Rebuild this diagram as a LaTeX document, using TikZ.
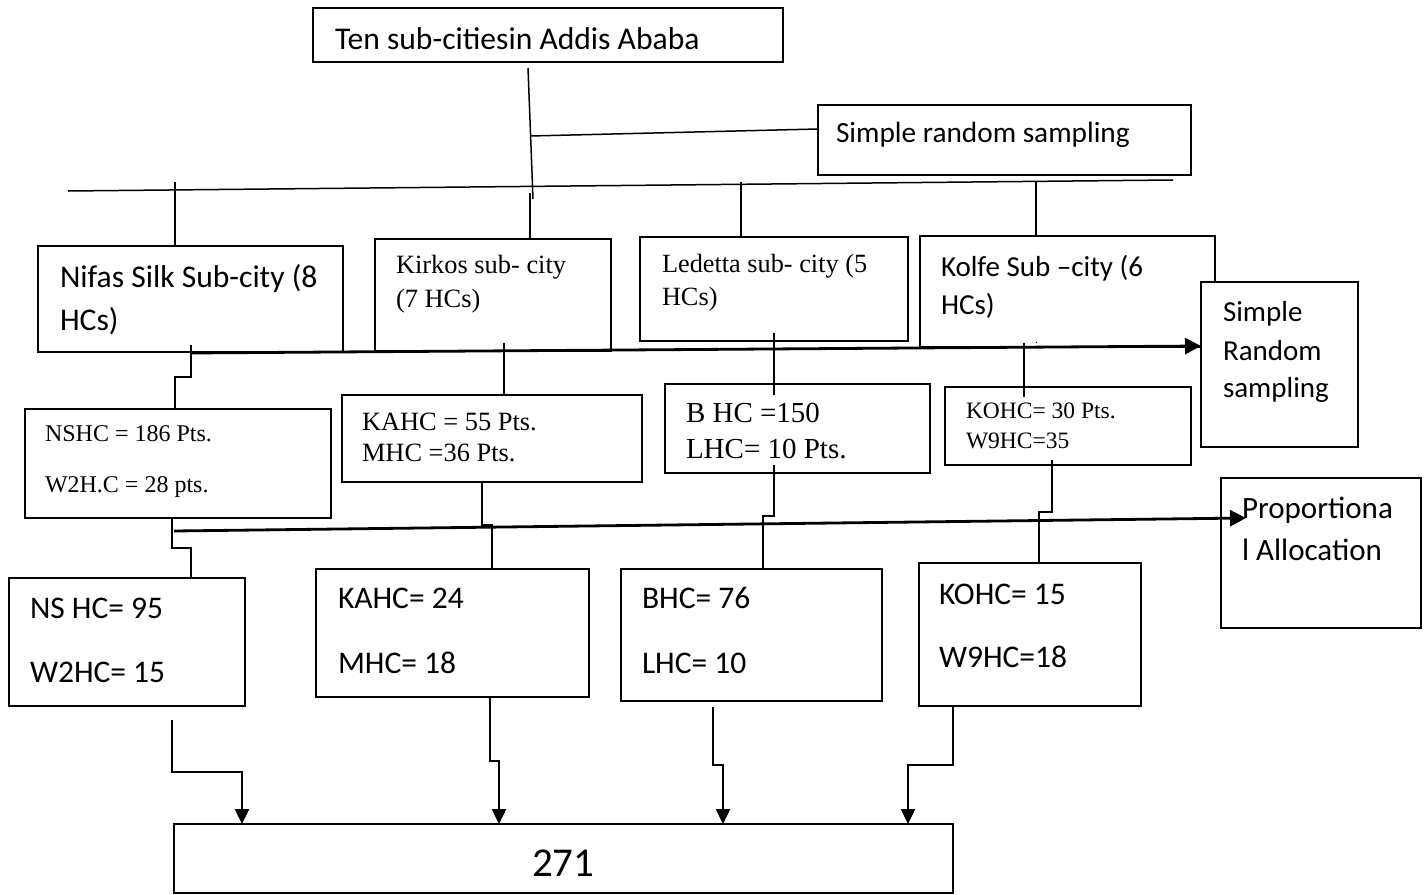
\documentclass[tikz,border=0pt]{standalone}
\usepackage{fontspec}
\setmainfont{Carlito}
\newfontfamily\tnr{Liberation Serif}
\usetikzlibrary{arrows.meta}
\tikzset{
  box/.style={draw, line width=2pt, inner sep=0pt, outer sep=0pt, anchor=north west, fill=white},
  txt/.style={inner sep=0pt, outer sep=0pt, anchor=base west},
  conn/.style={line width=1.5pt},
  bigarrow/.style={line width=2.8pt, -{Triangle[length=16pt,width=16pt]}},
  downarrow/.style={line width=2.4pt, -{Triangle[length=15pt,width=14pt]}},
}
\newcommand\mybox[5]{\node[box, minimum width={#4-#2}, minimum height={#5-#3}] (#1) at (#2,#3) {};}
\newcommand\fs[1]{\fontsize{#1}{#1}\selectfont}
\begin{document}
\begin{tikzpicture}[x=1pt,y=-1pt]
\path[use as bounding box] (0,0) rectangle (1426,894);

% boxes
\mybox{ten}{313}{8}{783}{62}
\mybox{srs}{818}{105}{1191}{175}
\mybox{nifas}{38}{246}{343}{352}
\mybox{kirkos}{375}{239}{611}{351}
\mybox{ledetta}{640}{237}{908}{341}
\mybox{kolfe}{920}{236}{1215}{347}
\mybox{srsb}{1201}{282}{1358}{447}
\mybox{nshc}{25}{409}{331}{518}
\mybox{kahc}{342}{395}{642}{482}
\mybox{bhc}{665}{384}{930}{473}
\mybox{kohc}{945}{387}{1191}{465}
\mybox{pa}{1221}{478}{1421}{628}
\mybox{nsf}{9}{578}{245}{706}
\mybox{kaf}{316}{569}{589}{697}
\mybox{bf}{621}{569}{882}{701}
\mybox{kof}{919}{563}{1141}{706}
\mybox{tot}{174}{824}{953}{893}

% texts
\node[txt] (tten) at (335,49) {\fs{31.6}Ten sub-citiesin Addis Ababa};
\node[txt] (tsrs) at (836,142) {\fs{29.3}Simple random sampling};
\node[txt] (tn1) at (60,287) {\fs{31.6}Nifas Silk Sub-city (8};
\node[txt] (tn2) at (60,330) {\fs{31.6}HCs)};
\node[txt] (tk1) at (396,273) {\tnr\fs{26.4}Kirkos sub- city};
\node[txt] (tk2) at (396,307) {\tnr\fs{26.4}(7 HCs)};
\node[txt] (tl1) at (662,272) {\tnr\fs{26.3}Ledetta sub- city (5};
\node[txt] (tl2) at (662,305) {\tnr\fs{26.3}HCs)};
\node[txt] (tko1) at (941,276) {\fs{29}Kolfe Sub –city (6};
\node[txt] (tko2) at (941,314) {\fs{29}HCs)};
\node[txt] (tdot) at (1035,343) {\tnr\fs{12}.};
\node[txt] (ts1) at (1223,321) {\fs{29}Simple};
\node[txt] (ts2) at (1223,360) {\fs{29}Random};
\node[txt] (ts3) at (1223,397) {\fs{29}sampling};
\node[txt] (tns1) at (45,441) {\tnr\fs{24}NSHC = 186 Pts.};
\node[txt] (tns2) at (45,492) {\tnr\fs{24}W2H.C = 28 pts.};
\node[txt] (tka1) at (362,430) {\tnr\fs{26.4}KAHC = 55 Pts.};
\node[txt] (tka2) at (362,461) {\tnr\fs{26.4}MHC =36 Pts.};
\node[txt] (tb1) at (686,422) {\tnr\fs{29}B HC =150};
\node[txt] (tb2) at (686,458) {\tnr\fs{29}LHC= 10 Pts.};
\node[txt] (tkh1) at (966,418) {\tnr\fs{23.5}KOHC= 30 Pts.};
\node[txt] (tkh2) at (966,448) {\tnr\fs{23.5}W9HC=35};
\node[txt] (tp1) at (1242,518) {\fs{31}Proportiona};
\node[txt] (tp2) at (1242,560) {\fs{31}l Allocation};
\node[txt] (tf1) at (30,618) {\fs{31.5}NS HC= 95};
\node[txt] (tf2) at (30,682) {\fs{31.5}W2HC= 15};
\node[txt] (tf3) at (338,608) {\fs{31.5}KAHC= 24};
\node[txt] (tf4) at (338,673) {\fs{31.5}MHC= 18};
\node[txt] (tf5) at (642,608) {\fs{31.5}BHC= 76};
\node[txt] (tf6) at (642,673) {\fs{31.5}LHC= 10};
\node[txt] (tf7) at (939,604) {\fs{31.5}KOHC= 15};
\node[txt] (tf8) at (939,667) {\fs{31.5}W9HC=18};
\node[txt] (ttot) at (532,876) {\fs{41}271};

% connector coordinates
\coordinate (a1) at (528,68);
\coordinate (a2) at (533,199);
\coordinate (k1) at (530,193);
\coordinate (b1) at (530,136);
\coordinate (b2) at (818,129);
\coordinate (h1) at (68,191);
\coordinate (h2) at (1173,180);
\coordinate (n1) at (175,182);
\coordinate (l1) at (741,182);
\coordinate (o1) at (1036,181);
\coordinate (r1) at (190,353);
\coordinate (r2) at (1201,346);
\coordinate (p1) at (174,531);
\coordinate (p2) at (1246,518);

\draw[conn] (a1) -- (a2);
\draw[conn] (k1) -- (k1 |- kirkos.north);
\draw[conn] (b1) -- (b2);
\draw[conn] (h1) -- (h2);
\draw[conn] (n1) -- (n1 |- nifas.north);
\draw[conn] (l1) -- (l1 |- ledetta.north);
\draw[conn] (o1) -- (o1 |- kolfe.north);

% second level
\coordinate (c1) at (191,345);
\draw[conn] (c1) -- ++(0,32) -- ++(-16,0) -- (175,409);
\coordinate (c2) at (504,343);
\draw[conn] (c2) -- (c2 |- kahc.north);
\coordinate (c3) at (774,333);
\draw[conn] (c3) -- (774,395);
\coordinate (c4) at (1024,343);
\draw[conn] (c4) -- (1024,397);

\draw[bigarrow] (r1) -- (r2);

% third level
\coordinate (e1) at (172,518);
\draw[conn] (e1) -- ++(0,30) -- ++(19,0) -- (191,578);
\coordinate (e2) at (482,482);
\draw[conn] (e2) -- ++(0,43) -- ++(10,0) -- (492,569);
\coordinate (e3) at (774,465);
\draw[conn] (e3) -- ++(0,51) -- ++(-11,0) -- (763,569);
\coordinate (e4) at (1052,460);
\draw[conn] (e4) -- ++(0,52) -- ++(-13,0) -- (1039,563);

\draw[bigarrow] (p1) -- (p2);

% bottom arrows
\coordinate (f1) at (172,720);
\draw[downarrow] (f1) -- ++(0,52) -- ++(70,0) -- (242,824);
\coordinate (f2) at (490,697);
\draw[downarrow] (f2) -- ++(0,64) -- ++(9,0) -- (499,824);
\coordinate (f3) at (713,707);
\draw[downarrow] (f3) -- ++(0,58) -- ++(10,0) -- (723,824);
\coordinate (f4) at (953,706);
\draw[downarrow] (f4) -- ++(0,59) -- ++(-45,0) -- (908,824);
\end{tikzpicture}
\end{document}
